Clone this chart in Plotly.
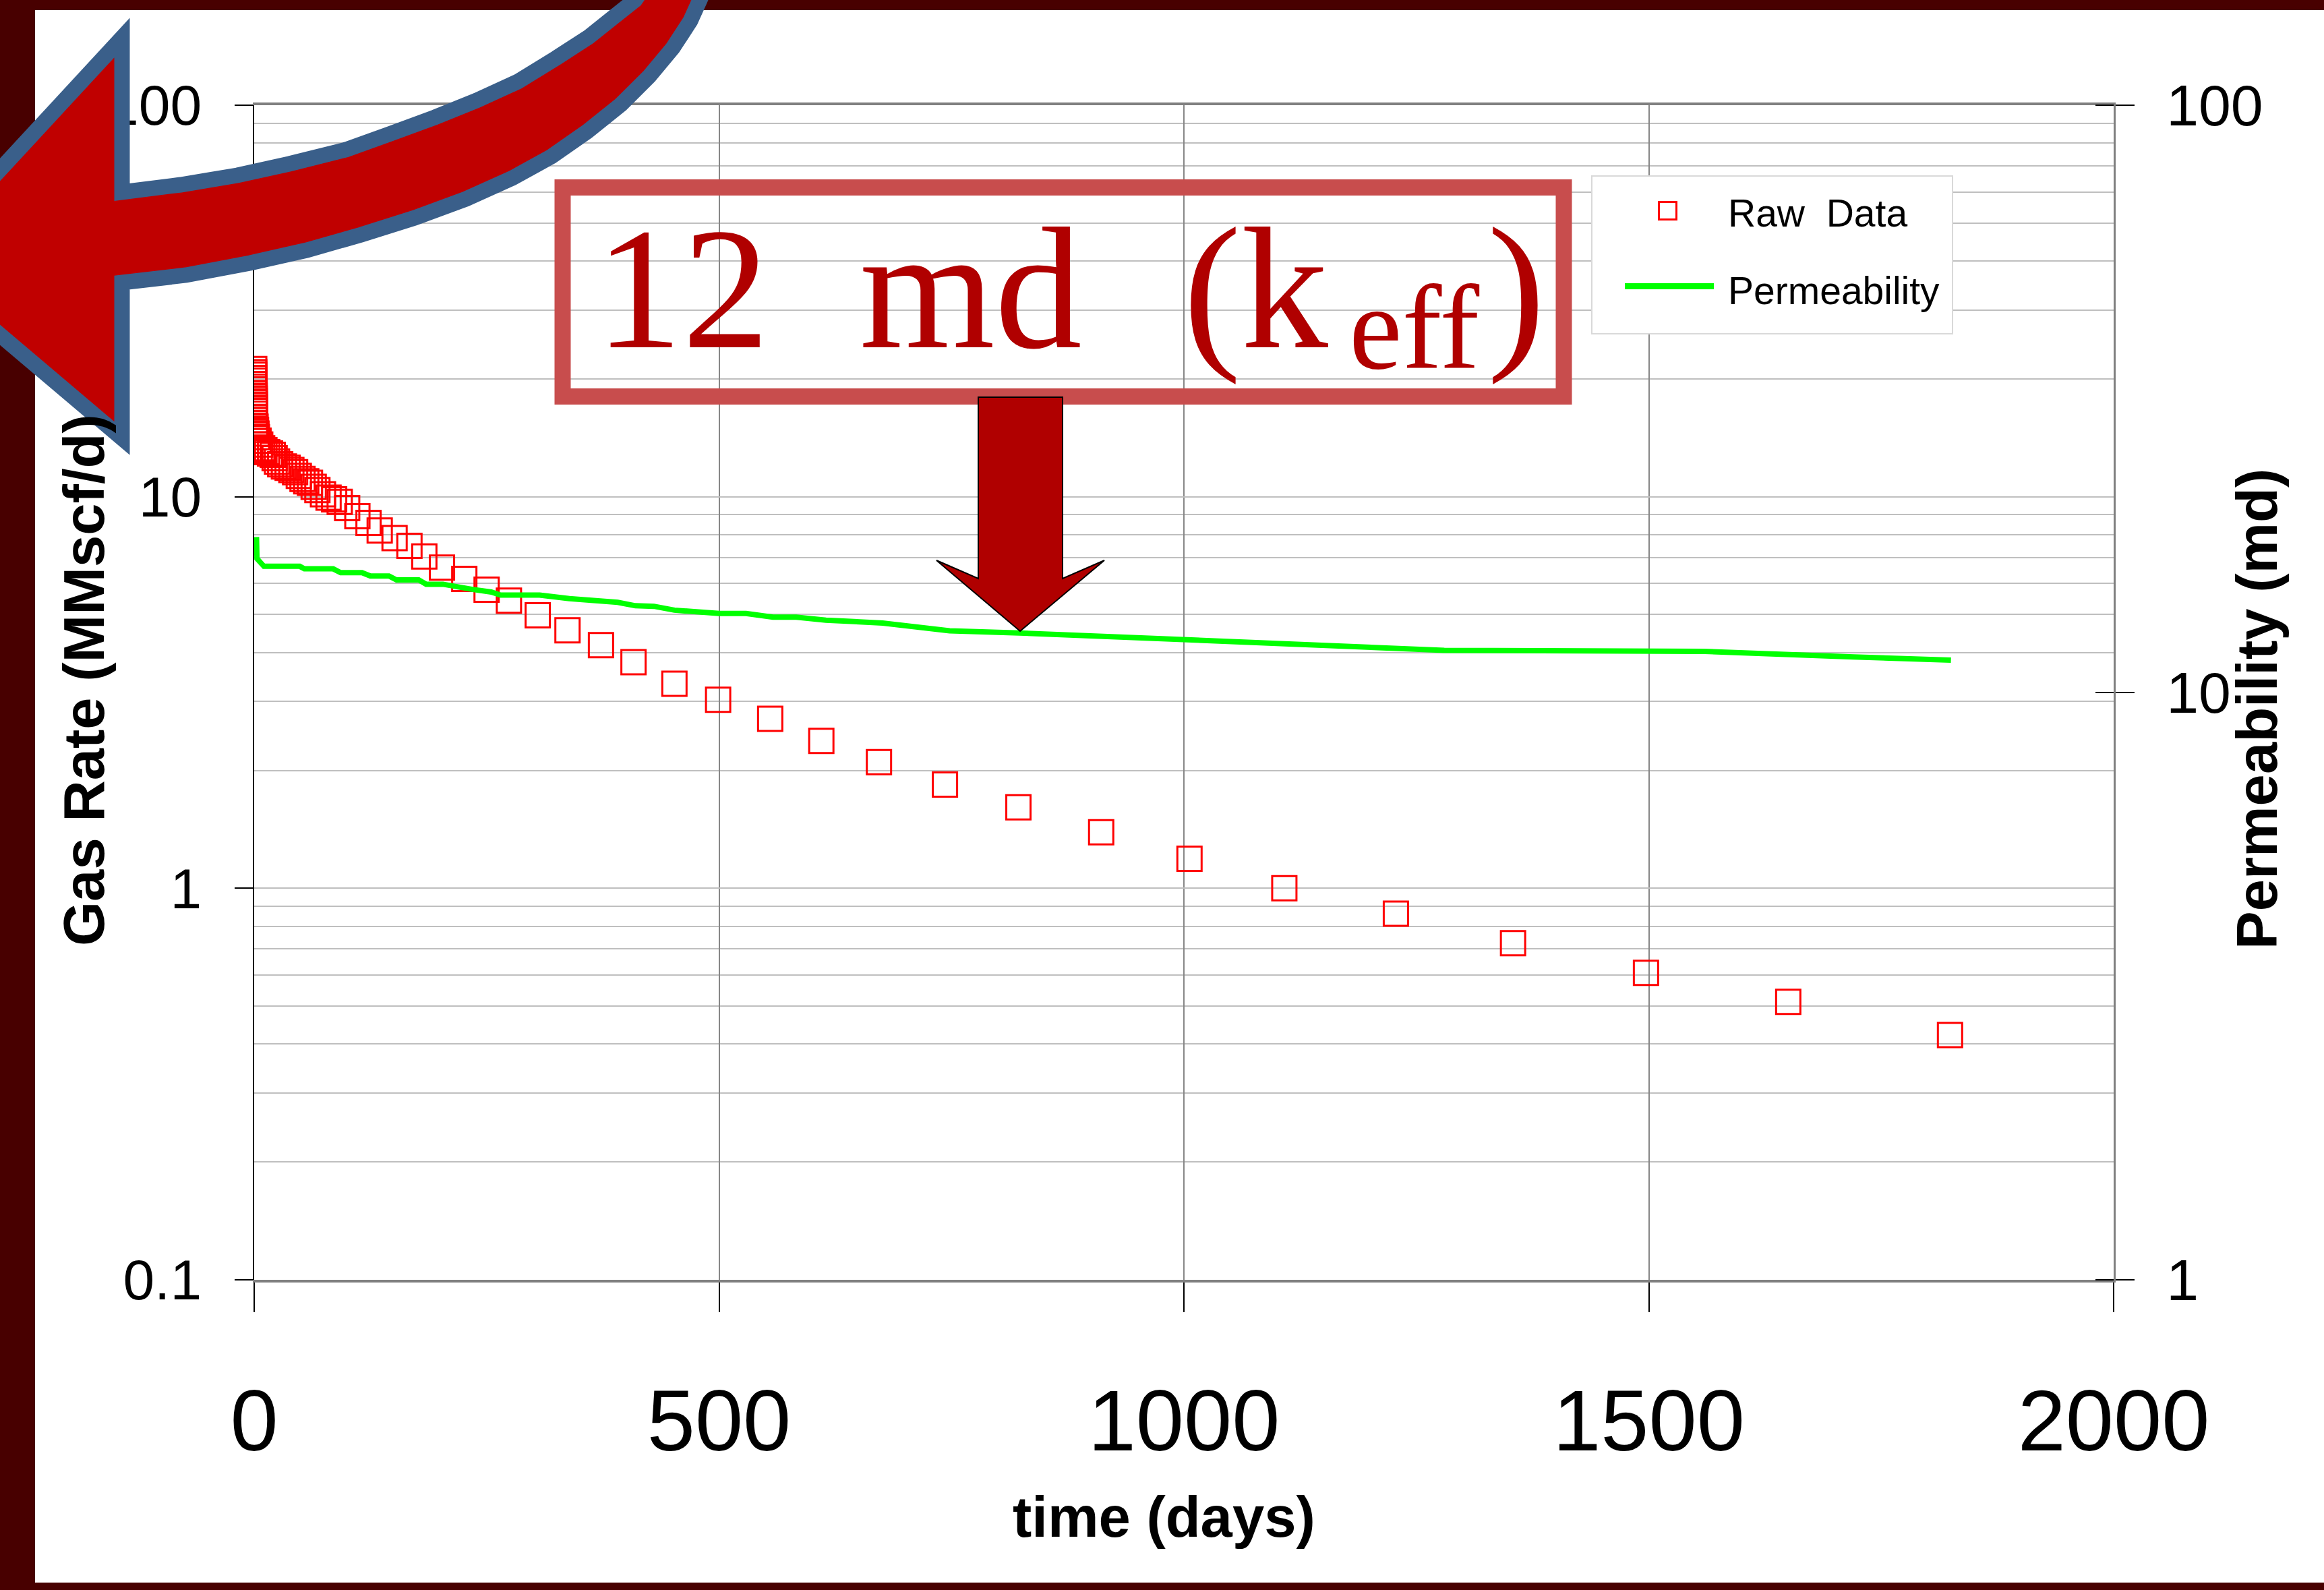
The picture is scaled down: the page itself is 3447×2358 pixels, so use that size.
import plotly.graph_objects as go

# ---------------- data ----------------
raw_days = [0.05, 0.1, 0.15, 0.2, 0.25, 0.3, 0.35, 0.4, 0.45, 0.5, 0.55, 0.6, 0.65, 0.7, 0.75, 0.8, 0.85, 0.9, 0.95,
            1.5, 2.0, 2.5, 3.0,
            4.7, 6.5, 8.6, 11, 14, 17, 20, 22, 24.6, 28, 32, 36, 40, 44, 48, 52, 56, 60, 64, 68, 74, 80, 86, 92, 100,
            111, 123, 135, 151, 167, 183, 202, 226, 250, 274, 305, 337, 373, 408, 452, 499, 555, 610, 672, 743,
            822, 911, 1006, 1108, 1228, 1354, 1497, 1650, 1824]
raw_rate = [21.2, 20.8, 20.5, 20.1, 19.8, 19.4, 19.1, 18.8, 18.4, 18.1, 17.8, 17.5, 17.2, 16.9, 16.6, 16.3, 16.0, 15.7, 15.4,
            15.1, 14.8, 14.5, 14.2,
            13.9, 13.6, 13.3, 13.15, 13.0, 12.9, 12.8, 12.55, 12.3, 12.1, 11.95, 11.85, 11.7, 11.55, 11.3, 11.1, 10.95,
            10.85, 10.6, 10.4, 10.15, 9.95, 9.85, 9.7, 9.35,
            8.92, 8.57, 8.2, 7.84, 7.49, 7.04, 6.59, 6.17, 5.79, 5.43, 4.98, 4.56, 4.18, 3.78, 3.33, 3.03, 2.71, 2.38,
            2.10, 1.84, 1.61, 1.39, 1.19, 1.0, 0.861, 0.724, 0.608, 0.513, 0.422]

perm_days = [2.5, 3.0, 10.5, 49, 54, 85, 93, 116, 125, 145, 153, 177, 185, 203, 235, 255, 265, 307, 339, 375,
             391, 410, 430, 452, 500, 529, 558, 583, 615, 676, 748, 823, 916, 995, 1100, 1160, 1280, 1560, 1640,
             1720, 1825]
perm_md = [18.4, 16.9, 16.4, 16.4, 16.24, 16.24, 16.0, 16.0, 15.79, 15.79, 15.55, 15.55, 15.29, 15.29, 14.98, 14.83,
           14.65, 14.65, 14.45, 14.27, 14.24, 14.05, 14.02, 13.81, 13.63, 13.63, 13.44, 13.44, 13.28, 13.13, 12.74,
           12.63, 12.45, 12.3, 12.1, 12.05, 11.8, 11.75, 11.65, 11.5, 11.35]

x_range = [0, 2000]
x_ticks = [0, 500, 1000, 1500, 2000]

series_names = ["Raw  Data", "Permeability"]
x_title = "time (days)"
y_title = "Gas Rate (MMscf/d)"
y2_title = "Permeability (md)"
callout_parts = ["12", "md", "(k", "eff", ")"]

# ---------------- layout geometry (pixels) ----------------
W, H = 3447, 2358
ML, MR, MT, MB = 377, 312, 156, 460
PW = W - ML - MR
PH = H - MT - MB


def px(x):
    return (x - ML) / PW


def py(y):
    return (H - MB - y) / PH


def path(points):
    return "M " + " L ".join(f"{px(x):.5f},{py(y):.5f}" for x, y in points) + " Z"


FONT = "Liberation Sans, Arial, sans-serif"
SERIF = "Liberation Serif, Times New Roman, serif"
RAW_COLOR = "#FF0000"
PERM_COLOR = "#00FF00"

fig = go.Figure()
fig.add_trace(go.Scatter(
    x=raw_days, y=raw_rate, mode="markers", name=series_names[0], showlegend=False,
    marker=dict(symbol="square-open", size=36, color=RAW_COLOR, line=dict(width=3, color=RAW_COLOR)),
    yaxis="y"))
fig.add_trace(go.Scatter(
    x=perm_days, y=perm_md, mode="lines", name=series_names[1], showlegend=False,
    line=dict(color=PERM_COLOR, width=8), yaxis="y2"))

# big curved arrow (decoration)
curved_arrow = [(-127, 389), (181, 56), (181, 285), (268, 274), (352, 260), (429, 243), (513, 222), (577, 199),
                (645, 174), (707, 149), (768, 121), (825, 86), (873, 55), (913, 23), (942, 0), (970, -40),
                (1055, -40), (1038, 0), (1024, 31), (998, 71), (963, 113), (921, 155), (871, 195), (818, 232),
                (760, 264), (691, 295), (615, 323), (536, 348), (455, 371), (371, 390), (276, 408), (181, 419),
                (181, 650)]
down_arrow = [(1451, 589), (1576, 589), (1576, 858), (1638, 831), (1513, 936), (1389, 831), (1451, 858)]

shapes = [
    # inner half of the right-axis tick marks (they cross the axis)
    *[dict(type="line", xref="paper", yref="paper", x0=px(3108), x1=1, y0=v, y1=v,
           line=dict(color="#000000", width=2), layer="above") for v in (0, 0.5, 1)],
    # legend box
    dict(type="rect", xref="paper", yref="paper", x0=px(2361), x1=px(2896), y0=py(261), y1=py(495),
         fillcolor="#FFFFFF", line=dict(color="#D9D9D9", width=2), layer="above"),
    dict(type="rect", xref="paper", yref="paper", x0=px(2460.5), x1=px(2486.5), y0=py(299.5), y1=py(325.5),
         fillcolor="rgba(0,0,0,0)", line=dict(color=RAW_COLOR, width=3), layer="above"),
    dict(type="line", xref="paper", yref="paper", x0=px(2410), x1=px(2542), y0=py(424.5), y1=py(424.5),
         line=dict(color=PERM_COLOR, width=9), layer="above"),
    # dark red frame
    dict(type="rect", xref="paper", yref="paper", x0=px(-20), x1=px(52), y0=py(-20), y1=py(H + 20),
         fillcolor="#480000", line=dict(width=0), layer="above"),
    dict(type="rect", xref="paper", yref="paper", x0=px(-20), x1=px(W + 20), y0=py(-20), y1=py(15),
         fillcolor="#480000", line=dict(width=0), layer="above"),
    dict(type="rect", xref="paper", yref="paper", x0=px(-20), x1=px(W + 20), y0=py(2347), y1=py(H + 20),
         fillcolor="#480000", line=dict(width=0), layer="above"),
    dict(type="path", xref="paper", yref="paper", path=path(curved_arrow), fillcolor="#C00000",
         line=dict(color="#3A5F8A", width=23), layer="above"),
    dict(type="rect", xref="paper", yref="paper", x0=px(834.5), x1=px(2319.5), y0=py(278), y1=py(588),
         fillcolor="rgba(0,0,0,0)", line=dict(color="#C84D4D", width=24), layer="above"),
    dict(type="path", xref="paper", yref="paper", path=path(down_arrow), fillcolor="#B00000",
         line=dict(color="#000000", width=2), layer="above"),
]


def ann(text, x, y, size, family=FONT, color="#000000", angle=0, xanchor="center"):
    return dict(text=text, xref="paper", yref="paper", x=px(x), y=py(y), textangle=angle, showarrow=False,
                font=dict(family=family, size=size, color=color), xanchor=xanchor, yanchor="middle")


annotations = [
    ann(f"<b>{y_title}</b>", 124, 1009, 85, angle=-90),
    ann(f"<b>{y2_title}</b>", 3347, 1052, 85, angle=-90),
    ann(f"<b>{x_title}</b>", 1726, 2249, 85),
    # legend texts
    ann(series_names[0], 2561, 316, 57, xanchor="left"),
    ann(series_names[1], 2561, 431, 57, xanchor="left"),
    # call-out text "12 md (k_eff)"
    ann(callout_parts[0], 1012, 428, 258, family=SERIF, color="#B00000"),
    ann(callout_parts[1], 1440, 428, 258, family=SERIF, color="#B00000"),
    ann(callout_parts[2], 1862, 428, 258, family=SERIF, color="#B00000"),
    ann(callout_parts[3], 2097, 486, 177, family=SERIF, color="#B00000"),
    ann(callout_parts[4], 2249, 428, 258, family=SERIF, color="#B00000"),
]

fig.update_layout(
    width=W, height=H, autosize=False,
    margin=dict(l=ML, r=MR, t=MT, b=MB, pad=0),
    paper_bgcolor="#FFFFFF", plot_bgcolor="#FFFFFF",
    font=dict(family=FONT, color="#000000"),
    showlegend=False,
    xaxis=dict(range=x_range, tickvals=x_ticks, showgrid=True, gridcolor="#878787", gridwidth=2,
               ticks="outside", ticklen=44, tickwidth=2, tickcolor="#000000",
               showline=True, linecolor="#808080", linewidth=4, mirror=True, zeroline=False,
               tickfont=dict(family=FONT, size=128, color="#000000"), ticklabelstandoff=51),
    yaxis=dict(type="log", range=[-1, 2], dtick=1, showgrid=True, gridcolor="#BFBFBF", gridwidth=2,
               minor=dict(dtick="D1", showgrid=True, gridcolor="#BFBFBF", gridwidth=2, ticks=""),
               ticks="outside", ticklen=27, tickwidth=2, tickcolor="#000000",
               showline=True, linecolor="#000000", linewidth=2, zeroline=False,
               tickfont=dict(family=FONT, size=84, color="#000000"), ticklabelstandoff=32),
    yaxis2=dict(type="log", range=[0, 2], dtick=1, overlaying="y", side="right", showgrid=False,
                ticks="outside", ticklen=28, tickwidth=2, tickcolor="#000000",
                showline=True, linecolor="#808080", linewidth=3, zeroline=False,
                tickfont=dict(family=FONT, size=86, color="#000000"), ticklabelstandoff=30),
    shapes=shapes,
    annotations=annotations,
)

fig.write_html("out.html", config={"displayModeBar": False},
               post_script="document.body.style.margin='0';document.body.style.padding='0';"
                           "document.body.style.overflow='hidden';")
